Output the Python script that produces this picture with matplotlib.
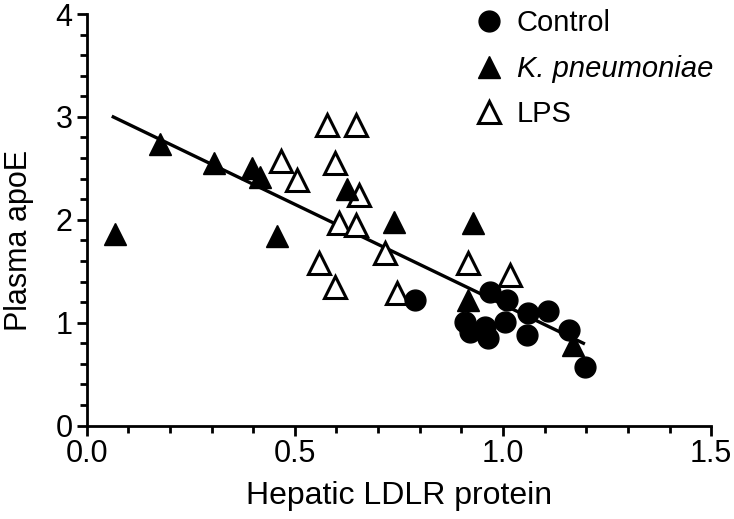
import matplotlib.pyplot as plt
import numpy as np

plt.rcParams['font.family'] = ['Liberation Sans', 'DejaVu Sans']

# Control group (filled circles)
ctrl_x = [0.789, 0.969, 1.009, 0.909, 0.921, 0.957, 0.965, 1.005, 1.057, 1.061, 1.107, 1.159, 1.197]
ctrl_y = [1.22, 1.30, 1.22, 1.01, 0.91, 0.96, 0.85, 1.01, 0.88, 1.09, 1.11, 0.93, 0.57]

# K. pneumoniae group (filled triangles)
kp_x = [0.067, 0.176, 0.306, 0.397, 0.417, 0.458, 0.626, 0.737, 0.927, 0.917, 1.169]
kp_y = [1.86, 2.74, 2.55, 2.50, 2.42, 1.84, 2.30, 1.98, 1.97, 1.22, 0.78]

# LPS group (open triangles)
lps_x = [0.577, 0.647, 0.467, 0.597, 0.506, 0.655, 0.607, 0.646, 0.717, 0.557, 0.597, 0.745, 0.917, 1.017]
lps_y = [2.92, 2.92, 2.57, 2.55, 2.39, 2.24, 1.97, 1.95, 1.68, 1.58, 1.35, 1.29, 1.58, 1.46]

# regression line end points
fit_x = [0.064, 1.193]
fit_y = [3.00, 0.80]

fig = plt.figure(figsize=(7.34, 5.19), dpi=100)
ax = fig.add_axes([0.118, 0.18, 0.851, 0.793])

ax.plot(fit_x, fit_y, color='black', lw=2.4, zorder=2)
ax.plot(lps_x, lps_y, '^', ms=15.5, mfc='white', mec='black', mew=2.2, ls='none', label='LPS', zorder=3)
ax.plot(kp_x, kp_y, '^', ms=15.5, color='black', ls='none', label='K. pneumoniae', zorder=4)
ax.plot(ctrl_x, ctrl_y, 'o', ms=15, color='black', ls='none', label='Control', zorder=5)

ax.set_xlim(0, 1.5)
ax.set_ylim(0, 4)
ax.set_xticks([0.0, 0.5, 1.0, 1.5])
ax.set_xticklabels(['0.0', '0.5', '1.0', '1.5'])
ax.set_yticks([0, 1, 2, 3, 4])
ax.set_xticks(np.arange(0, 1.5, 0.1), minor=True)
ax.set_yticks(np.arange(0, 4, 0.2), minor=True)

for s in ['top', 'right']:
    ax.spines[s].set_visible(False)
for s in ['left', 'bottom']:
    ax.spines[s].set_linewidth(2)

ax.tick_params(which='major', direction='out', length=7, width=2, labelsize=22, pad=3)
ax.tick_params(which='minor', direction='out', length=5, width=2)

ax.set_xlabel('Hepatic LDLR protein', fontsize=23, labelpad=8)
ax.set_ylabel('Plasma apoE', fontsize=22)
ax.yaxis.set_label_coords(-0.085, 0.45)

h, l = ax.get_legend_handles_labels()
order = [2, 1, 0]
leg = ax.legend([h[i] for i in order], [l[i] for i in order], loc='upper right',
                bbox_to_anchor=(1.045, 1.075), frameon=False, fontsize=21,
                handlelength=0.8, handletextpad=0.55, labelspacing=0.6)
leg.get_texts()[1].set_style('italic')

fig.savefig('out.png', dpi=100)
